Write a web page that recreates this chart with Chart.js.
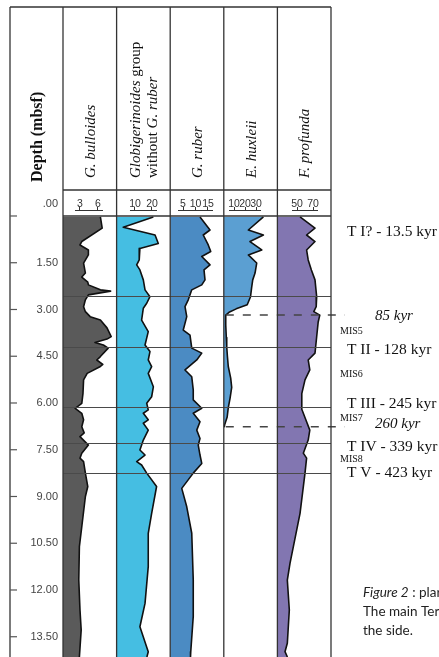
<!DOCTYPE html>
<html>
<head>
<meta charset="utf-8">
<script src="https://cdn.jsdelivr.net/npm/chart.js@4.4.0/dist/chart.umd.min.js"></script>
<style>
  html, body { margin: 0; padding: 0; background: #fff; }
</style>
</head>
<body>
<canvas id="myChart" width="439" height="657"></canvas>
<script>
// Depth axis ticks (mbsf)
const depthTicks = [0, 1.5, 3, 4.5, 6, 7.5, 9, 10.5, 12, 13.5];

// G. bulloides
const bulloidesDepth = [0.03, 0.39, 0.82, 0.93, 1.09, 1.25, 1.51, 1.83, 1.96, 2.12, 2.21, 2.37, 2.41, 2.53, 2.69, 2.91, 3.07, 3.23, 3.34, 3.59, 3.87, 3.95, 4.06, 4.14, 4.24, 4.51, 4.62, 4.76, 4.83, 5.05, 5.26, 5.69, 6.01, 6.17, 6.33, 6.54, 6.76, 6.96, 7.08, 7.35, 7.61, 7.77, 7.88, 8.25, 8.68, 9.0, 9.97, 10.61, 11.68, 12.64, 13.28, 14.15];
const bulloides = [6.4, 6.7, 3.3, 3.0, 4.4, 4.4, 3.6, 3.9, 3.3, 4.3, 4.4, 6.4, 8.1, 4.4, 3.9, 3.6, 3.9, 4.7, 6.4, 7.5, 8.2, 7.5, 5.5, 6.9, 7.7, 6.4, 5.8, 6.8, 6.4, 4.2, 3.6, 3.5, 3.3, 2.2, 3.3, 3.6, 3.3, 3.7, 3.0, 4.4, 3.3, 3.0, 3.6, 3.9, 4.3, 3.9, 3.3, 2.9, 2.8, 3.0, 3.2, 2.9];

// Globigerinoides group without G. ruber
const globDepth = [0.03, 0.36, 0.61, 0.88, 1.04, 1.41, 1.57, 1.73, 2.05, 2.37, 2.59, 2.8, 2.96, 3.34, 3.71, 4.14, 4.35, 4.62, 4.83, 5.05, 5.48, 5.8, 6.01, 6.22, 6.33, 6.54, 6.65, 6.87, 7.19, 7.51, 7.67, 7.88, 7.99, 8.25, 8.68, 9.54, 10.18, 11.25, 12.43, 13.18, 13.98, 14.15];
const glob = [20.8, 3.1, 21.8, 23.7, 12.9, 12.5, 11.0, 12.9, 14.9, 15.9, 18.8, 16.9, 14.9, 13.9, 17.8, 15.9, 18.8, 17.8, 19.8, 17.8, 20.8, 19.8, 16.9, 17.8, 14.9, 17.8, 14.9, 17.8, 14.9, 12.9, 15.9, 11.0, 13.9, 16.9, 22.7, 19.8, 17.8, 17.8, 15.9, 12.9, 17.8, 17.0];

// G. ruber
const ruberDepth = [0.03, 0.45, 0.61, 0.93, 1.14, 1.3, 1.57, 1.73, 2.05, 2.21, 2.37, 2.69, 2.91, 3.23, 3.66, 3.82, 4.24, 4.4, 4.62, 4.94, 5.16, 5.58, 5.9, 6.17, 6.33, 6.6, 6.87, 7.14, 7.35, 7.67, 7.94, 8.25, 8.74, 9.33, 10.18, 11.68, 12.85, 13.98, 14.15];
const ruber = [11.8, 15.8, 13.1, 15.1, 16.1, 12.5, 15.8, 13.4, 13.8, 12.5, 8.5, 7.1, 5.8, 6.5, 5.1, 7.8, 8.5, 12.5, 10.5, 5.8, 8.5, 9.1, 9.1, 12.5, 9.1, 11.8, 10.5, 11.8, 11.1, 11.8, 12.5, 9.1, 4.5, 6.5, 8.5, 9.1, 9.1, 8.1, 8.0];

// E. huxleii
const huxleiiDepth = [0.03, 0.45, 0.61, 0.82, 1.09, 1.25, 1.51, 1.83, 2.05, 2.3, 2.59, 2.85, 2.98, 3.08, 3.18, 3.5, 3.9, 4.2, 4.5, 4.83, 5.2, 5.5, 5.85, 6.15, 6.45, 6.7, 6.76];
const huxleii = [36.7, 23.0, 36.7, 24.5, 35.2, 23.0, 30.6, 29.1, 27.0, 26.0, 25.0, 22.0, 12.0, 6.0, 2.5, 2.5, 3.0, 3.4, 4.0, 4.8, 7.0, 7.9, 6.4, 4.8, 3.8, 1.5, 1.2];

// F. profunda
const profundaDepth = [0.03, 0.39, 0.61, 0.82, 1.09, 1.41, 1.73, 2.05, 2.59, 2.91, 3.07, 3.18, 3.4, 3.9, 4.4, 4.62, 4.94, 5.26, 5.7, 6.2, 6.6, 6.87, 7.19, 7.61, 7.77, 8.25, 9.54, 11.14, 11.68, 12.64, 13.71, 13.98, 14.15];
const profunda = [53.8, 72.5, 62.0, 72.5, 62.0, 64.0, 68.0, 72.5, 74.6, 74.0, 71.0, 78.5, 76.5, 74.5, 72.5, 64.0, 66.0, 60.0, 56.0, 56.0, 62.0, 66.0, 64.0, 57.9, 62.0, 60.0, 53.8, 41.3, 37.9, 40.4, 37.9, 35.0, 38.0];

// column titles (*...* = italic), scale ticks and scale ranges
const colTitles = [['*G. bulloides*'], ['*Globigerinoides* group', 'without *G. ruber*'], ['*G. ruber*'], ['*E. huxleii*'], ['*F. profunda*']];
const colTicks = [[3, 6], [10, 20], [5, 10, 15], [10, 20, 30], [50, 70]];
const colMin = [0.17, -0.8, -0.12, 0.73, 25.5];
const colMax = [9.1, 30.7, 21.32, 49.4, 92.5];

// event lines and labels on the right
const eventDepths = [2.57, 4.2, 6.13, 7.28, 8.25];
const horizonDepths = [3.18, 6.76];
const termLabels = ['T I? - 13.5 kyr', 'T II - 128 kyr', 'T III - 245 kyr', 'T IV - 339 kyr', 'T V - 423 kyr'];
const termDepths = [0.51, 4.3, 6.03, 7.41, 8.25];
const horizonLabels = ['85 kyr', '260 kyr'];
const horizonLabelDepths = [3.2, 6.67];
const misLabels = ['MIS5', 'MIS6', 'MIS7', 'MIS8'];
const misDepths = [3.69, 5.07, 6.48, 7.8];
const captionLines = [['*Figure 2* : plar'], ['The main Ter'], ['the side.']];

const colors = ['#5a5a5a', '#45bee2', '#4b8bc3', '#5b9fd2', '#8276b1'];
const serif = '"Liberation Serif", "DejaVu Serif", serif';
const sans = '"Liberation Sans", Arial, sans-serif';
const capFont = 'Lato, "Noto Sans", sans-serif';

const series = [
    [bulloidesDepth, bulloides],
    [globDepth, glob],
    [ruberDepth, ruber],
    [huxleiiDepth, huxleii],
    [profundaDepth, profunda]
];

const fmtDepth = v => v.toFixed(2).replace(/^0/, '');

// text with *italic* parts
function richText(ctx, text, size, family, x, y) {
    let off = 0;
    text.split('*').forEach((part, i) => {
        if (!part) return;
        ctx.font = (i % 2 ? 'italic ' : '') + size + 'px ' + family;
        ctx.fillText(part, x + off, y);
        off += ctx.measureText(part).width;
    });
}

const overlay = {
    id: 'overlay',
    afterDatasetsDraw(chart) {
        const { ctx, chartArea: a, scales } = chart;
        const ys = scales.y;
        const xs = colTitles.map((_, i) => scales['x' + i]);
        const H = chart.height;
        const top = 7, left = 10, hdr = 190;
        const seg = (x1, y1, x2, y2) => { ctx.beginPath(); ctx.moveTo(x1, y1); ctx.lineTo(x2, y2); ctx.stroke(); };
        ctx.save();

        // termination lines
        ctx.strokeStyle = '#4a4a4a';
        ctx.lineWidth = 1;
        eventDepths.forEach(d => {
            const y = Math.round(ys.getPixelForValue(d)) + 0.5;
            seg(a.left, y, a.right, y);
        });
        // dated horizons (dashed)
        ctx.setLineDash([8, 9]);
        ctx.lineWidth = 1.5;
        ctx.strokeStyle = '#444';
        horizonDepths.forEach(d => {
            const y = ys.getPixelForValue(d);
            seg(xs[3].left + 2, y, a.right + 14, y);
        });
        ctx.setLineDash([]);

        // frame
        ctx.strokeStyle = '#333';
        ctx.lineWidth = 1.3;
        seg(left, top, left, H);
        xs.forEach(s => seg(s.left, top, s.left, H));
        seg(a.right, top, a.right, H);
        seg(left, top, a.right, top);
        seg(a.left, hdr, a.right, hdr);
        const y0 = ys.getPixelForValue(0);
        seg(a.left, y0, a.right, y0);

        // depth ticks
        ctx.lineWidth = 1.2;
        ctx.strokeStyle = '#555';
        depthTicks.forEach(v => {
            const y = ys.getPixelForValue(v);
            seg(left, y, left + 7, y);
        });
        // scale baselines in header
        ctx.lineWidth = 1;
        ctx.strokeStyle = '#333';
        xs.forEach((s, i) => {
            const t = colTicks[i];
            seg(s.getPixelForValue(t[0]) - 5, a.top - 0.5, s.getPixelForValue(t[t.length - 1]) + 5, a.top - 0.5);
        });

        // depth 0 label in header row
        ctx.fillStyle = '#444';
        ctx.font = '11px ' + sans;
        ctx.textAlign = 'right';
        ctx.textBaseline = 'middle';
        ctx.fillText(fmtDepth(depthTicks[0]), 58, 204);

        // rotated titles
        ctx.fillStyle = '#111';
        ctx.textAlign = 'left';
        const rot = (x, y, fn) => { ctx.save(); ctx.translate(x, y); ctx.rotate(-Math.PI / 2); fn(); ctx.restore(); };
        rot(38, 182, () => { ctx.font = 'bold 16px ' + serif; ctx.fillText('Depth (mbsf)', 0, 0); });
        xs.forEach((s, i) => {
            const lines = colTitles[i];
            const cx = (s.left + s.right) / 2;
            lines.forEach((txt, j) => {
                const x = cx + (j - (lines.length - 1) / 2) * 17 + 1;
                rot(x, 178, () => richText(ctx, txt, 15, serif, 0, 0));
            });
        });

        // labels on the right side
        termLabels.forEach((t, i) => {
            ctx.font = '15.5px ' + serif;
            ctx.fillText(t, 347, ys.getPixelForValue(termDepths[i]));
        });
        horizonLabels.forEach((t, i) => {
            ctx.font = 'italic 15px ' + serif;
            ctx.fillText(t, 375, ys.getPixelForValue(horizonLabelDepths[i]));
        });
        misLabels.forEach((t, i) => {
            ctx.font = '10px ' + serif;
            ctx.fillText(t, 340, ys.getPixelForValue(misDepths[i]));
        });

        // caption fragment
        ctx.fillStyle = '#222';
        captionLines.forEach((ln, i) => richText(ctx, ln[0], 13.5, capFont, 363, 593 + i * 19));
        ctx.restore();
    }
};

const scales = {
    y: {
        type: 'linear',
        position: 'left',
        reverse: true,
        min: -0.16,
        max: 14.15,
        afterBuildTicks: s => { s.ticks = depthTicks.map(v => ({ value: v })); },
        afterFit: s => { s.width = 63; s.paddingTop = 0; s.paddingBottom = 0; },
        grid: { display: false, drawTicks: false },
        border: { display: false },
        ticks: {
            padding: 5,
            color: '#444',
            autoSkip: false,
            font: { family: sans, size: 11 },
            callback: v => (v === 0 ? '' : fmtDepth(v))
        }
    }
};

const datasets = series.map(([depth, vals], i) => {
    scales['x' + i] = {
        type: 'linear',
        position: 'top',
        stack: 'cols',
        stackWeight: 1,
        weight: series.length - i, // top boxes are placed by descending weight
        min: colMin[i],
        max: colMax[i],
        afterBuildTicks: s => { s.ticks = colTicks[i].map(v => ({ value: v })); },
        afterFit: s => { s.height = 211; s.paddingLeft = 0; s.paddingRight = 0; },
        grid: { drawOnChartArea: false, tickLength: 4, color: '#333', lineWidth: 1 },
        border: { display: false },
        ticks: { padding: -2, color: '#333', autoSkip: false, maxRotation: 0, font: { family: sans, size: 10.5, lineHeight: 1 } }
    };
    return {
        data: depth.map((d, k) => ({ x: vals[k], y: d })),
        xAxisID: 'x' + i,
        yAxisID: 'y',
        backgroundColor: colors[i],
        borderColor: '#111',
        borderWidth: 1.6,
        borderJoinStyle: 'round',
        pointRadius: 0,
        tension: 0,
        fill: { value: colMin[i] }
    };
});

const ctx = document.getElementById('myChart').getContext('2d');
const myChart = new Chart(ctx, {
    type: 'line',
    data: { datasets },
    options: {
        indexAxis: 'y',
        responsive: false,
        animation: false,
        layout: { padding: { left: 0, right: 108, top: 0, bottom: 0 } },
        plugins: { legend: { display: false }, tooltip: { enabled: false } },
        scales
    },
    plugins: [overlay]
});
</script>
</body>
</html>
